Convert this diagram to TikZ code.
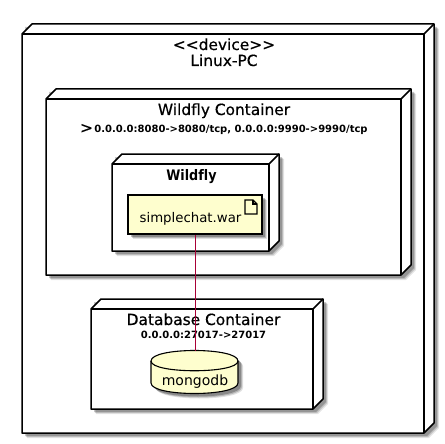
\documentclass[tikz,border=0pt]{standalone}
\usepackage{graphicx}
\usepackage{fontspec}
\setmainfont[Ligatures=NoCommon]{DejaVu Sans}
\newfontfamily\semi[FakeBold=0.5]{DejaVu Sans}
\definecolor{umlfill}{HTML}{FEFECE}
\definecolor{umlline}{HTML}{A80036}
\newcommand{\nodebox}[4]{% x1,y1,x2,y2 of the front face
  \foreach \s/\o in {5/0.10,4/0.16,3/0.22}{
    \fill[black,opacity=\o] (#1+\s,#2-10+\s) -- ++(10,-0) -- (#3+10+\s,#2-10+\s) -- (#3+10+\s,#4-10+\s) -- (#3+\s,#4+\s) -- (#1+\s,#4+\s) -- cycle;
  }
  \filldraw[boxline,fill=white] (#1,#2) -- (#1+10,#2-10) -- (#3+10,#2-10) -- (#3+10,#4-10) -- (#3,#4) -- (#1,#4) -- cycle;
  \draw[boxline] (#1,#2) -- (#3,#2) -- (#3,#4);
  \draw[boxline] (#3,#2) -- (#3+10,#2-10);
}
\tikzset{
  x=1pt,y=-1pt,
  boxline/.style={draw=black,line width=1.5pt,line join=round},
  umlbox/.style={draw=black,line width=1.1pt,fill=umlfill},
  lbl/.style={inner sep=0pt,font=\fontsize{14}{14}\selectfont,anchor=base},
  ttl/.style={inner sep=0pt,font=\semi\fontsize{15.4}{15.4}\selectfont,anchor=base},
  blbl/.style={inner sep=0pt,font=\fontsize{14.5}{14.5}\selectfont\bfseries,anchor=base},
  small/.style={inner sep=0pt,font=\fontsize{10}{10}\selectfont\bfseries,anchor=base},
  anchorbox/.style={inner sep=0pt,minimum width=#1,minimum height=0pt},
  link/.style={draw=umlline,line width=0.8pt},
}
\begin{document}
\begin{tikzpicture}
\useasboundingbox (0,0) rectangle (445,444);
\fill[white] (0,0) rectangle (445,444);
% nodes
\nodebox{22}{34}{424}{433}
\node[ttl] (dev) at (224,50) {{<}{<}device{>}{>}};
\node[ttl] (pc) at (224,66) {Linux-PC};
\nodebox{46}{99}{401}{275}
\node[ttl] (wc) at (224,115) {Wildfly Container};
\node[ttl] (gt) at (86.5,133) {>};
\node[small] (wcp) at (231,132) {0.0.0.0:8080->8080/tcp, 0.0.0.0:9990->9990/tcp};
\nodebox{112}{164}{269}{251}
\node[blbl] (wf) at (191.5,180) {\scalebox{0.88}[1]{Wildfly}};
% artifact
\foreach \s/\o in {5/0.12,4/0.18,3/0.25}{
  \fill[black,opacity=\o] (128+\s,195+\s) rectangle (262+\s,234+\s);
}
\node[umlbox,minimum width=134pt,minimum height=39pt,inner sep=0pt] (war) at (195,214.5) {};
\node[lbl,font=\fontsize{13.3}{13.3}\selectfont] (warl) at (190.5,222) {simplechat.war};
\draw[black,line width=1.2pt,fill=umlfill,line join=miter] (245,200) -- (253,200) -- (257,204) -- (257,214) -- (245,214) -- cycle;
\draw[black,line width=1.2pt] (253,200) -- (253,204) -- (257,204);
\nodebox{91}{309}{313}{409}
\node[ttl] (dc) at (203.5,325) {Database Container};
\node[small] (dcp) at (203.5,338) {0.0.0.0:27017->27017};
% database
\foreach \s/\o in {5/0.12,4/0.18,3/0.25}{
  \fill[black,opacity=\o] (151+\s,361+\s) .. controls (151+\s,347+\s) and (238+\s,347+\s) .. (238+\s,361+\s) -- (238+\s,383+\s) .. controls (238+\s,397+\s) and (151+\s,397+\s) .. (151+\s,383+\s) -- cycle;
}
\draw[umlbox] (151,361) .. controls (151,347) and (238,347) .. (238,361) -- (238,383) .. controls (238,397) and (151,397) .. (151,383) -- cycle;
\draw[black,line width=1.1pt] (151,361) .. controls (151,374) and (238,374) .. (238,361);
\node[anchorbox=87pt] (db) at (195.5,351) {};
\node[lbl] (dbl) at (195,385) {mongodb};
% connector
\draw[link] (war.south -| db.north) -- (db.north);
\end{tikzpicture}
\end{document}
